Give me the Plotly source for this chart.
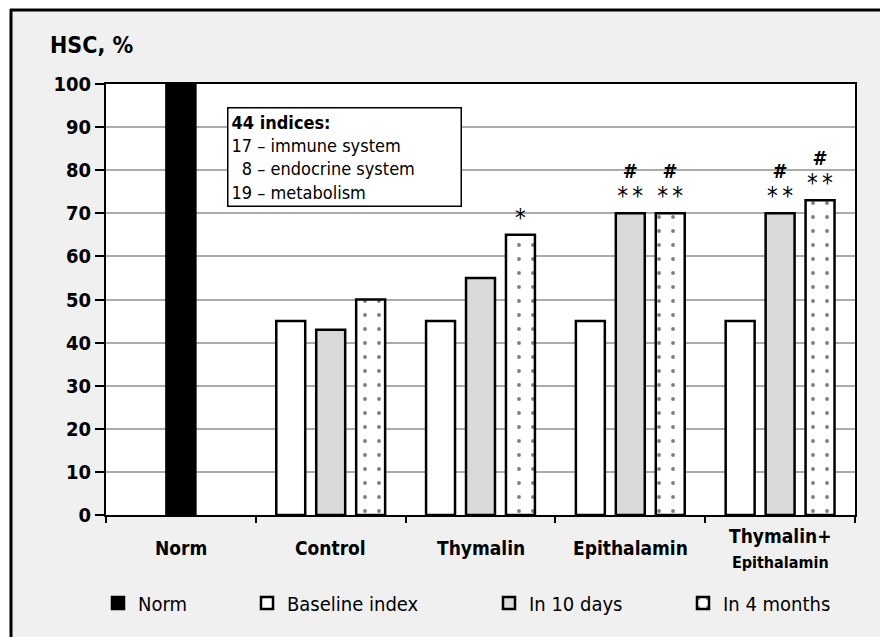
import plotly.graph_objects as go

# ---- data ----
categories = ["Norm", "Control", "Thymalin", "Epithalamin", "Thymalin+Epithalamin"]
tick_labels = ["Norm", "Control", "Thymalin", "Epithalamin",
               "Thymalin+<br><span style='font-size:16px'>Epithalamin</span>"]
groups = ["Control", "Thymalin", "Epithalamin", "Thymalin+Epithalamin"]
norm_value = [100]
baseline = [45, 45, 45, 45]
in_10_days = [43, 55, 70, 70]
in_4_months = [50, 65, 70, 73]
marks_10_days = ["", "", "#|**", "#|**"]
marks_4_months = ["", "*", "#|**", "#|**"]
y_ticks = list(range(0, 101, 10))
info_lines = ["<b>44 indices:</b>", "17 – immune system", "\u20078 – endocrine system", "19 – metabolism"]

FONT = "Liberation Sans Narrow, Arial Narrow, DejaVu Sans Condensed, sans-serif"

# pixel helpers (plot area: x 106..855, y 84..515)
L, R, T, B = 106, 855, 84, 515
def xp(px):
    return (px - L) / (R - L)
def yp(py):
    return (B - py) / (B - T)

def fmt(m):
    if not m:
        return ""
    star = "<span style='font-size:24px'>{}</span>"
    if "|" in m:
        a, b = m.split("|")
        return "<b>" + a + "</b><br>" + star.format("\u2009".join(b))
    return star.format(m)

fig = go.Figure()
line = dict(color="black", width=2.5)
mark_font = dict(size=20, color="#000000", family=FONT)
fig.add_trace(go.Bar(x=groups, y=baseline, name="Baseline index", offsetgroup="g1",
                     marker=dict(color="white", line=line), legend="legend2"))
fig.add_trace(go.Bar(x=["Norm"], y=norm_value, name="Norm", offsetgroup="g2",
                     marker=dict(color="black", line=line), legend="legend"))
fig.add_trace(go.Bar(x=groups, y=in_10_days, name="In 10 days", offsetgroup="g2",
                     marker=dict(color="#d9d9d9", line=line), legend="legend3",
                     text=[fmt(m) for m in marks_10_days], textposition="outside",
                     constraintext="none", cliponaxis=False, textfont=mark_font))
fig.add_trace(go.Bar(x=groups, y=in_4_months, name="In 4 months", offsetgroup="g3",
                     marker=dict(color="white", line=line,
                                 pattern=dict(shape=".", fgcolor="black", bgcolor="white",
                                              size=14, solidity=0.06, fillmode="overlay")),
                     legend="legend4",
                     text=[fmt(m) for m in marks_4_months], textposition="outside",
                     constraintext="none", cliponaxis=False, textfont=mark_font))

annotations = []
for c, lab in zip(categories, tick_labels):
    annotations.append(dict(x=c, xref="x", y=yp(548), yref="paper", text=lab,
                            showarrow=False, yanchor="middle", xanchor="center",
                            font=dict(size=19, family=FONT, color="black", weight="bold")))
annotations.append(dict(x=xp(48), y=yp(45), xref="paper", yref="paper", text="<b>HSC, %</b>",
                        showarrow=False, xanchor="left", yanchor="middle",
                        font=dict(size=23, family=FONT, color="black")))
annotations.append(dict(x=xp(227), y=yp(107), xref="paper", yref="paper",
                        text="<br>".join(info_lines), showarrow=False, align="left",
                        xanchor="left", yanchor="top", bgcolor="white",
                        bordercolor="black", borderwidth=1.5, borderpad=3, width=226,
                        font=dict(size=18, family=FONT, color="black")))

shapes = [
    dict(type="rect", xref="paper", yref="paper", x0=xp(-5), x1=xp(10), y0=yp(-5), y1=yp(660),
         fillcolor="white", line=dict(width=0)),
    dict(type="rect", xref="paper", yref="paper", x0=xp(-5), x1=xp(900), y0=yp(-5), y1=yp(9),
         fillcolor="white", line=dict(width=0)),
    dict(type="line", xref="paper", yref="paper", x0=xp(11), x1=xp(11), y0=yp(9), y1=yp(660),
         line=dict(color="black", width=3)),
    dict(type="line", xref="paper", yref="paper", x0=xp(10), x1=xp(900), y0=yp(10), y1=yp(10),
         line=dict(color="black", width=3)),
]

def leg(text_left):
    return dict(orientation="h", x=xp(text_left - 42), xanchor="left", y=yp(603), yanchor="middle",
                bgcolor="rgba(0,0,0,0)", font=dict(size=20, family=FONT, color="black"))

fig.update_layout(
    width=880, height=637, autosize=False,
    margin=dict(l=L, r=880 - R, t=T, b=637 - B),
    paper_bgcolor="#f0f0f0", plot_bgcolor="white",
    barmode="group", bargap=0.2, bargroupgap=0.275,
    showlegend=True,
    legend=leg(140), legend2=leg(289), legend3=leg(531), legend4=leg(725),
    annotations=annotations, shapes=shapes,
    hovermode=False,
    xaxis=dict(type="category", categoryorder="array", categoryarray=categories,
               range=[-0.5, 4.5], showticklabels=False, ticks="outside", tickson="boundaries",
               ticklen=6, tickwidth=2, tickcolor="black", showline=True, linecolor="black",
               linewidth=2, mirror=True, showgrid=False),
    yaxis=dict(range=[0, 100], tickvals=y_ticks, ticks="outside", ticklen=9, tickwidth=2,
               tickcolor="black", showline=True, linecolor="black", linewidth=2, mirror=True,
               showgrid=True, gridcolor="#ababab", gridwidth=2, zeroline=False,
               tickfont=dict(size=20, family=FONT, color="black", weight="bold")),
)

fig.write_html("out.html", config={"displayModeBar": False},
               post_script="document.body.style.margin='0';")
